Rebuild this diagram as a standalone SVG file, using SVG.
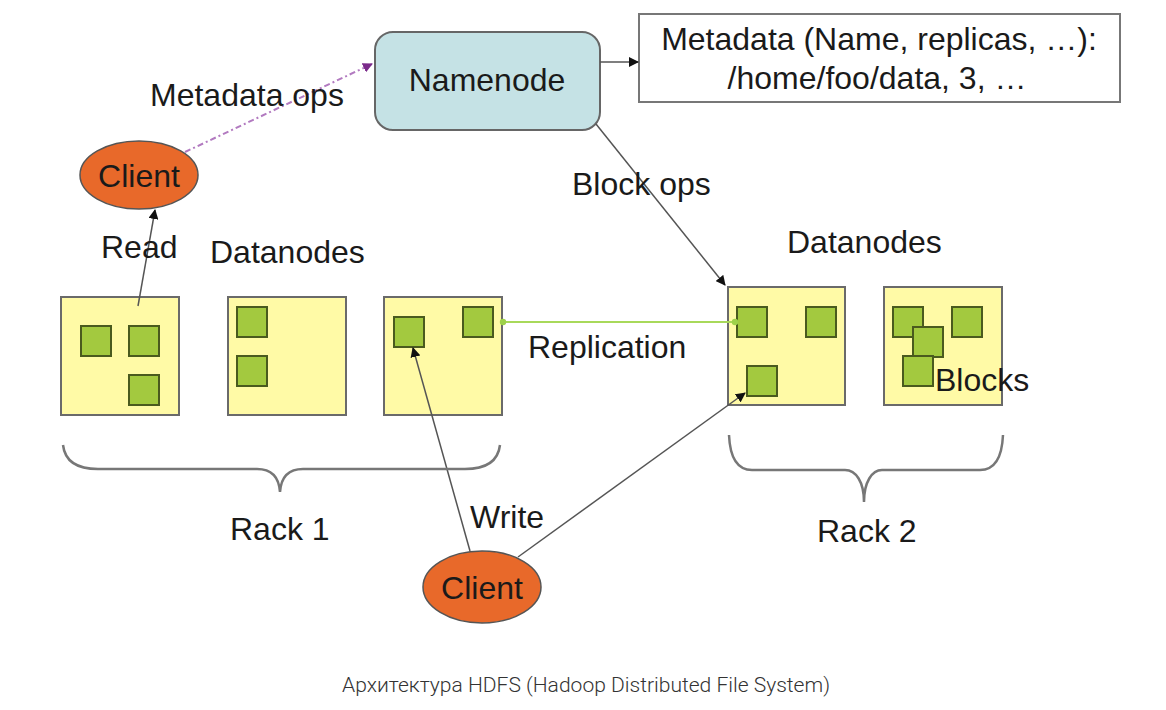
<svg xmlns="http://www.w3.org/2000/svg" width="1166" height="710" viewBox="0 0 1166 710">
<style>
.t{font-family:"Liberation Sans",Arial,sans-serif;fill:#1a1a1a;font-size:32px}
.rack{fill:#fffaa6;stroke:#6a6a6a;stroke-width:2}
.blk{fill:#a3c93f;stroke:#4a5a1e;stroke-width:2}
.cl{fill:#e8692a;stroke:#555;stroke-width:1.5}
.ln{stroke:#555;stroke-width:1.5;fill:none}
.brace{stroke:#777;stroke-width:2.5;fill:none}
</style>
<defs>
<marker id="ah" viewBox="0 0 10 10" refX="9" refY="5" markerWidth="10" markerHeight="10" markerUnits="userSpaceOnUse" orient="auto"><path d="M0,0 L10,5 L0,10 z" fill="#111"/></marker>
<marker id="ahp" viewBox="0 0 10 10" refX="9" refY="5" markerWidth="10" markerHeight="10" markerUnits="userSpaceOnUse" orient="auto"><path d="M0,0 L10,5 L0,10 z" fill="#7a2a8a"/></marker>
<marker id="dg" viewBox="0 0 10 10" refX="5" refY="5" markerWidth="8" markerHeight="8" markerUnits="userSpaceOnUse"><circle cx="5" cy="5" r="4" fill="#9ed14a"/></marker>
</defs>
<rect width="1166" height="710" fill="#fff"/>

<g id="namenode">
<rect x="375" y="32" width="225" height="98" rx="18" fill="#c5e2e5" stroke="#666" stroke-width="2"/>
<text class="t" x="487" y="91" text-anchor="middle">Namenode</text>
</g>
<g id="metadata">
<rect x="639" y="14" width="481" height="88" fill="#fff" stroke="#777" stroke-width="2"/>
<text class="t" x="879" y="50" text-anchor="middle" font-size="33.5">Metadata (Name, replicas, …):</text>
<text class="t" x="877" y="89" text-anchor="middle" font-size="33.5">/home/foo/data, 3, …</text>
</g>
<g id="client-read">
<ellipse class="cl" cx="139" cy="175" rx="59" ry="34"/>
<text class="t" x="139" y="187" text-anchor="middle">Client</text>
</g>
<g id="client-write">
<ellipse class="cl" cx="482" cy="587" rx="59" ry="36"/>
<text class="t" x="482" y="599" text-anchor="middle">Client</text>
</g>

<g id="rack1">
<g id="dn1"><rect class="rack" x="61" y="297" width="118" height="118"/>
<rect class="blk" x="81" y="326" width="30" height="30"/><rect class="blk" x="129" y="326" width="30" height="30"/><rect class="blk" x="129" y="375" width="30" height="30"/></g>
<g id="dn2"><rect class="rack" x="228" y="297" width="118" height="118"/>
<rect class="blk" x="237" y="307" width="30" height="30"/><rect class="blk" x="237" y="356" width="30" height="30"/></g>
<g id="dn3"><rect class="rack" x="384" y="297" width="118" height="118"/>
<rect class="blk" x="394" y="317" width="30" height="30"/><rect class="blk" x="463" y="307" width="30" height="30"/></g>
</g>
<g id="rack2">
<g id="dn4"><rect class="rack" x="728" y="287" width="117" height="118"/>
<rect class="blk" x="737" y="307" width="30" height="30"/><rect class="blk" x="806" y="307" width="30" height="30"/><rect class="blk" x="747" y="366" width="30" height="30"/></g>
<g id="dn5"><rect class="rack" x="884" y="287" width="118" height="118"/>
<rect class="blk" x="893" y="307" width="30" height="30"/><rect class="blk" x="952" y="307" width="30" height="30"/><rect class="blk" x="913" y="327" width="30" height="30"/><rect class="blk" x="903" y="356" width="30" height="30"/></g>
</g>

<g id="connectors">
<line class="ln" x1="600" y1="62" x2="638" y2="62" marker-end="url(#ah)"/>
<line x1="185" y1="152" x2="372" y2="64" stroke="#b27ac0" stroke-width="2" stroke-dasharray="6,3,2,3" marker-end="url(#ahp)"/>
<line class="ln" x1="138" y1="306" x2="155" y2="210" marker-end="url(#ah)"/>
<line class="ln" x1="596" y1="124" x2="725" y2="285" marker-end="url(#ah)"/>
<line x1="503" y1="322" x2="735" y2="322" stroke="#a8d95a" stroke-width="2" marker-start="url(#dg)" marker-end="url(#dg)"/>
<line class="ln" x1="470" y1="551" x2="413" y2="348" marker-end="url(#ah)"/>
<line class="ln" x1="518" y1="557" x2="745" y2="393" marker-end="url(#ah)"/>
</g>

<g id="braces">
<path class="brace" d="M63,445 C65,462 78,469 98,469 L257,469 C272,469 279,478 280,492 C281,478 288,469 303,469 L465,469 C485,469 498,462 500,445"/>
<path class="brace" d="M729,435 C730,458 738,470 752,470 L845,470 C856,470 864,482 864,502 C864,482 872,470 882,470 L980,470 C994,470 1002,458 1003,435"/>
</g>

<g id="labels">
<text class="t" x="150" y="106">Metadata ops</text>
<text class="t" x="572" y="195">Block ops</text>
<text class="t" x="101" y="258">Read</text>
<text class="t" x="210" y="263">Datanodes</text>
<text class="t" x="787" y="253">Datanodes</text>
<text class="t" x="528" y="358">Replication</text>
<text class="t" x="935" y="391">Blocks</text>
<text class="t" x="470" y="528">Write</text>
<text class="t" x="230" y="540">Rack 1</text>
<text class="t" x="817" y="542">Rack 2</text>
<text x="586" y="692" text-anchor="middle" font-family="Roboto,'Liberation Sans',sans-serif" font-weight="300" font-size="20" fill="#333" textLength="488" lengthAdjust="spacingAndGlyphs">Архитектура HDFS (Hadoop Distributed File System)</text>
</g>
</svg>
